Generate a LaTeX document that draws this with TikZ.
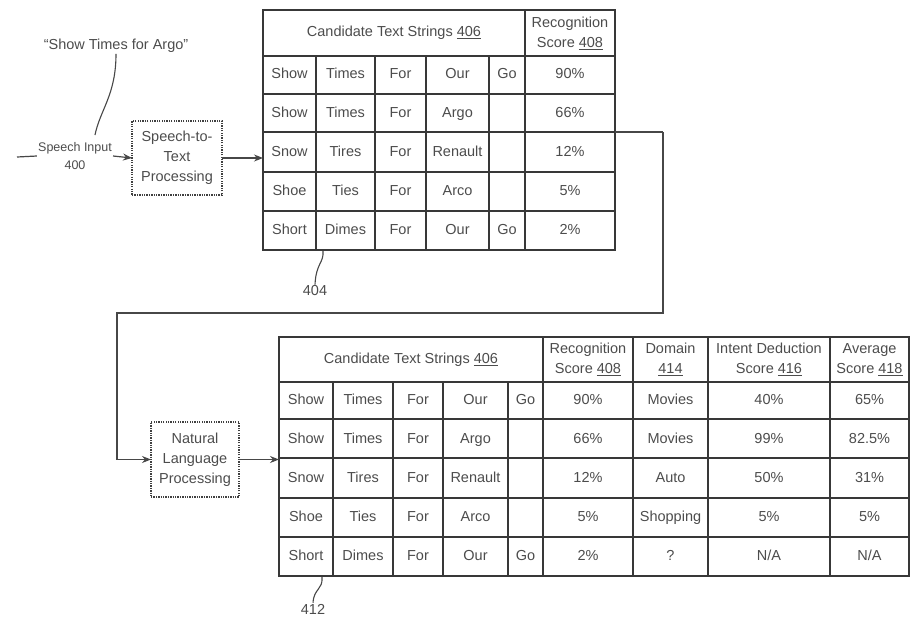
\documentclass[tikz,border=0pt]{standalone}
\usepackage{fontspec}
\setmainfont{Liberation Sans}
\usetikzlibrary{arrows.meta}
\tikzset{
  txt/.style={text=black!70, font=\fontsize{14.5}{20}\selectfont, inner sep=1pt, align=center},
  cell/.style={txt, text height=10.5pt, text depth=3pt},
  small/.style={text=black!70, font=\fontsize{12.5}{18}\selectfont, inner sep=1pt, align=center},
  tbl/.style={draw=black!78, line width=1.4pt, inner sep=0pt, outer sep=0pt},
  gridline/.style={draw=black!78, line width=1.3pt},
  procbox/.style={draw=black!75, line width=1.2pt, dash pattern=on 1.3pt off 1.1pt, inner sep=0pt, outer sep=0pt, align=center, text=black!70, font=\fontsize{14.5}{20}\selectfont},
  conn/.style={draw=black!72, line width=1.2pt},
  arr/.style={conn, -{Stealth[length=9pt,width=7pt]}},
  leader/.style={draw=black!72, line width=1.1pt}
}
\begin{document}
\begin{tikzpicture}[x=1pt,y=-1pt]
\useasboundingbox (0,0) rectangle (910,618);

% ---- input side
\node[txt] (quote) at (116,46) {“Show Times for Argo”};
\node[small] (sin) at (75,156) {Speech Input\\400};
\coordinate (in0) at (17,157);
\coordinate (lead0) at (95,135);
\draw[conn] (in0) -- (sin.west);
\draw[leader] (lead0) .. controls (100,110) and (116,95) .. (quote.south);
\node[procbox, minimum width=90pt, minimum height=74pt] (stt) at (177,158) {Speech-to-\\Text\\Processing};
\draw[arr] (sin.east) -- (stt.west);

% ---- top table
\node[tbl, minimum width=352pt, minimum height=240pt] (t1) at (439,130) {};
\foreach \yy in {56,94,132,172,211} \draw[gridline] (263,\yy) -- (615,\yy);
\foreach \xx in {316,375,426,489} \draw[gridline] (\xx,56) -- (\xx,250);
\draw[gridline] (525,10) -- (525,250);
\node[txt] (h1a) at (394,33) {Candidate Text Strings \underline{406}};
\node[txt] (h1b) at (570,33) {Recognition\\Score \underline{408}};
\foreach \r [count=\i] in {{Show,Times,For,Our,Go,90\%},{Show,Times,For,Argo,,66\%},{Snow,Tires,For,Renault,,12\%},{Shoe,Ties,For,Arco,,5\%},{Short,Dimes,For,Our,Go,2\%}}{
  \foreach \c [count=\j] in \r {
    \pgfmathsetmacro\cx{{289.5,345.5,400.5,457.5,507,570}[\j-1]}
    \pgfmathsetmacro\cy{75+(\i-1)*38.9}
    \node[cell] (a-\i-\j) at (\cx,\cy) {\c};
  }
}
\coordinate (k1) at (323,251);
\node[txt] (l404) at (315,291) {404};
\draw[leader] (k1) .. controls (324,263) and (316,263) .. (l404.north);

\draw[arr] (stt.east) -- (stt.east -| t1.west);

% ---- connector to NLP
\coordinate (c1) at (615,132);
\coordinate (c2) at (663,132);
\coordinate (c3) at (117,313);
\node[procbox, minimum width=88pt, minimum height=75pt] (nlp) at (195,459.5) {Natural\\Language\\Processing};
\draw[conn] (c1) -- (c2);
\draw[arr] (c2) |- (c3) |- (nlp.west);

% ---- bottom table
\node[tbl, minimum width=630pt, minimum height=239pt] (t2) at (594,456.5) {};
\foreach \yy in {382,419,458,498,537} \draw[gridline] (279,\yy) -- (909,\yy);
\foreach \xx in {333,393,443,508} \draw[gridline] (\xx,382) -- (\xx,576);
\foreach \xx in {543,633,708,830} \draw[gridline] (\xx,337) -- (\xx,576);
\node[txt] (h2a) at (411,359.5) {Candidate Text Strings \underline{406}};
\node[txt] (h2b) at (588,359.5) {Recognition\\Score \underline{408}};
\node[txt] (h2c) at (670.5,359.5) {Domain\\\underline{414}};
\node[txt] (h2d) at (769,359.5) {Intent Deduction\\Score \underline{416}};
\node[txt] (h2e) at (869.5,359.5) {Average\\Score \underline{418}};
\foreach \r [count=\i] in {{Show,Times,For,Our,Go,90\%,Movies,40\%,65\%},{Show,Times,For,Argo,,66\%,Movies,99\%,82.5\%},{Snow,Tires,For,Renault,,12\%,Auto,50\%,31\%},{Shoe,Ties,For,Arco,,5\%,Shopping,5\%,5\%},{Short,Dimes,For,Our,Go,2\%,?,N/A,N/A}}{
  \foreach \c [count=\j] in \r {
    \pgfmathsetmacro\cx{{306,363,418,475.5,525.5,588,670.5,769,869.5}[\j-1]}
    \pgfmathsetmacro\cy{400.5+(\i-1)*39}
    \node[cell] (b-\i-\j) at (\cx,\cy) {\c};
  }
}
\coordinate (k2) at (322,577);
\node[txt] (l412) at (313,609) {412};
\draw[leader] (k2) .. controls (323,590) and (314,588) .. (l412.north);

\draw[arr] (nlp.east) -- (nlp.east -| t2.west);
\end{tikzpicture}
\end{document}
